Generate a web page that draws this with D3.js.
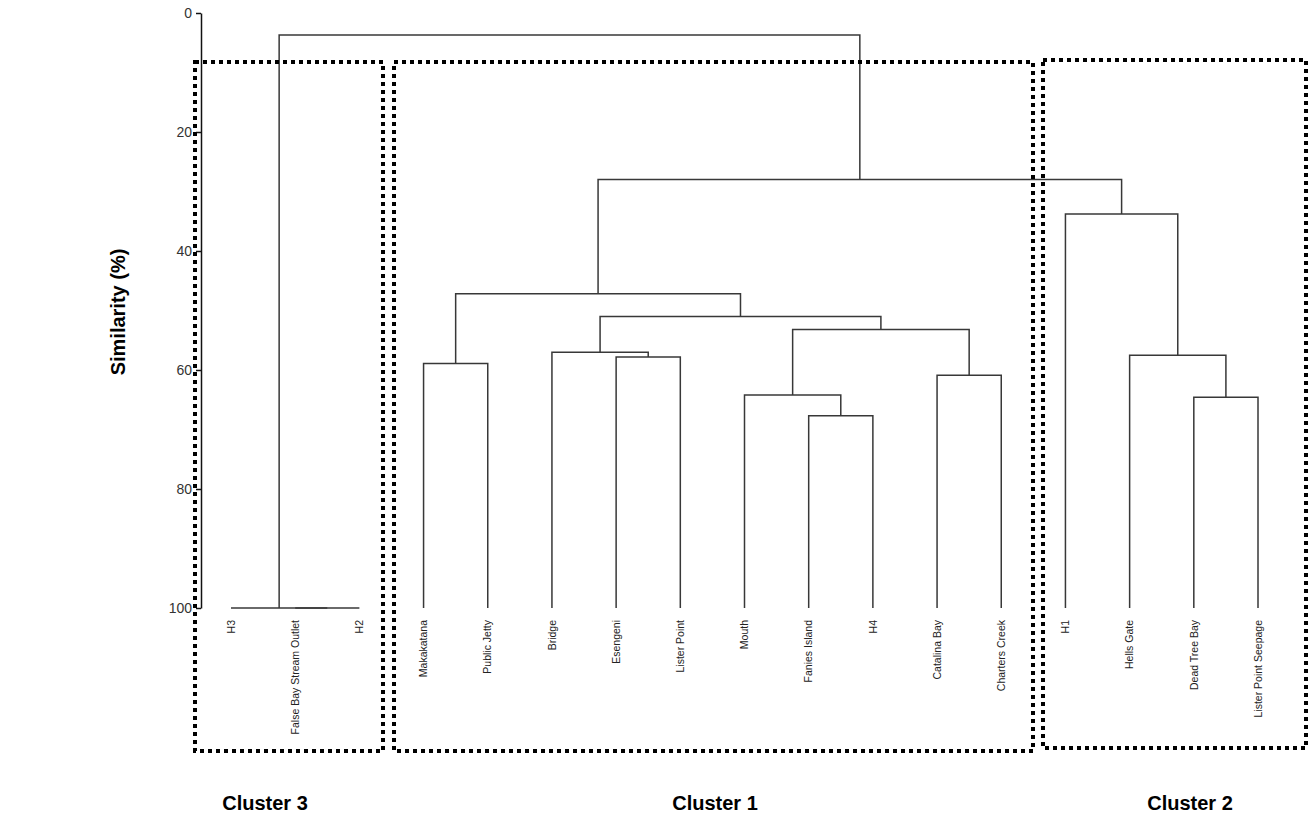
<!DOCTYPE html>
<html>
<head>
<meta charset="utf-8">
<script src="https://cdn.jsdelivr.net/npm/d3@7/dist/d3.min.js"></script>
<style>
  html, body { margin: 0; padding: 0; background: #fff; }
  svg { display: block; font-family: Arial, "Liberation Sans", sans-serif; }
</style>
</head>
<body>
<svg id="chart" width="1309" height="820"></svg>
<script>
// ---- Data ----
const leaves = ["H3", "False Bay Stream Outlet", "H2",
  "Makakatana", "Public Jetty", "Bridge", "Esengeni", "Lister Point",
  "Mouth", "Fanies Island", "H4", "Catalina Bay", "Charters Creek",
  "H1", "Hells Gate", "Dead Tree Bay", "Lister Point Seepage"];

// merges: [childA, childB, similarity]; children are leaf names or "m<index>"
const mergeA = ["False Bay Stream Outlet", "H3", "Makakatana", "Esengeni", "Bridge", "Fanies Island", "Mouth", "Catalina Bay", "m6", "m4", "m2", "Dead Tree Bay", "Hells Gate", "H1", "m10", "m1"];
const mergeB = ["H2", "m0", "Public Jetty", "Lister Point", "m3", "H4", "m5", "Charters Creek", "m7", "m8", "m9", "Lister Point Seepage", "m11", "m12", "m13", "m14"];
const mergeHeight = [100, 100, 58.9, 57.8, 57.0, 67.7, 64.2, 60.9, 53.2, 51.0, 47.2, 64.6, 57.5, 33.8, 28.0, 3.7];

const yTicks = [0, 20, 40, 60, 80, 100];
const clusterNames = ["Cluster 3", "Cluster 1", "Cluster 2"];

// ---- Layout ----
const svg = d3.select("#chart");
const x = d3.scalePoint().domain(leaves).range([231, 1258]);
const y = d3.scaleLinear().domain([0, 100]).range([13, 608]);

const nodeX = {}, nodeH = {};
leaves.forEach(l => { nodeX[l] = x(l); nodeH[l] = 100; });
mergeA.forEach((a, i) => {
  const b = mergeB[i];
  nodeX["m" + i] = (nodeX[a] + nodeX[b]) / 2;
  nodeH["m" + i] = mergeHeight[i];
});

// ---- Axis ----
const axis = d3.axisLeft(y).tickValues(yTicks).tickSize(5).tickPadding(4).tickSizeOuter(0);
const ag = svg.append("g").attr("transform", "translate(201,0)").call(axis);
ag.select(".domain").attr("stroke", "#111").attr("stroke-width", 1.5);
ag.selectAll(".tick line").attr("stroke", "#111").attr("stroke-width", 1.5);
ag.selectAll(".tick text").attr("font-size", 14).attr("fill", "#333")
  .attr("font-family", "Arial, 'Liberation Sans', sans-serif");

// ---- Dendrogram links ----
const lg = svg.append("g").attr("stroke", "#383838").attr("stroke-width", 1.5).attr("fill", "none");
mergeA.forEach((a, i) => {
  const b = mergeB[i];
  const h = mergeHeight[i];
  lg.append("path").attr("d",
    `M${nodeX[a]},${y(nodeH[a])}V${y(h)}H${nodeX[b]}V${y(nodeH[b])}`);
});

// ---- Leaf labels ----
svg.append("g").selectAll("text").data(leaves).join("text")
  .attr("transform", d => `translate(${x(d)},620) rotate(-90)`)
  .attr("text-anchor", "end")
  .attr("dy", "0.35em")
  .attr("font-size", 10.5)
  .attr("fill", "#222")
  .text(d => d);

// ---- Cluster boxes (layout) ----
const boxes = [
  { l: 195, t: 62, r: 383, b: 751 },
  { l: 394, t: 62, r: 1033, b: 751 },
  { l: 1043, t: 60, r: 1306, b: 748 }
];
svg.append("g").selectAll("rect").data(boxes).join("rect")
  .attr("x", d => d.l).attr("y", d => d.t)
  .attr("width", d => d.r - d.l).attr("height", d => d.b - d.t)
  .attr("fill", "none").attr("stroke", "#000")
  .attr("stroke-width", 4).attr("stroke-dasharray", "4,4");

// ---- Cluster labels ----
const labelX = [265, 715, 1190];
svg.append("g").selectAll("text").data(clusterNames).join("text")
  .attr("x", (d, i) => labelX[i]).attr("y", 810)
  .attr("text-anchor", "middle")
  .attr("font-size", 20).attr("font-weight", "bold").attr("fill", "#000")
  .text(d => d);

// ---- Y axis title ----
svg.append("text")
  .attr("transform", "translate(125,312) rotate(-90)")
  .attr("text-anchor", "middle")
  .attr("font-size", 20).attr("font-weight", "bold")
  .text("Similarity (%)");
</script>
</body>
</html>
